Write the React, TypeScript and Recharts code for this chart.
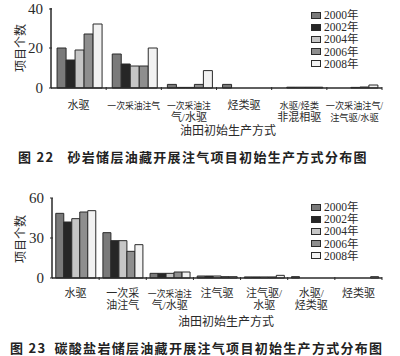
import React from 'react';
import { BarChart, Bar, XAxis, YAxis, Legend } from 'recharts';

const years = ['2000年', '2002年', '2004年', '2006年', '2008年'];
const keys = ['y2000', 'y2002', 'y2004', 'y2006', 'y2008'];
const fills = ['#7a7a7a', '#262626', '#c6c6c6', '#8e8e8e', '#f2f2f2'];

// 图22 砂岩储层
const sandCats = ['水驱', '一次采油注气', '一次采油注\n气/水驱', '烃类驱', '水驱/烃类\n非混相驱', '一次采油注气/\n注气驱/水驱'];
const sand2000 = [20, 17, 1.8, 1.8, 0, 0];
const sand2002 = [14, 12, 0.3, 0, 0.4, 0];
const sand2004 = [19, 11, 0.3, 0, 0.4, 0.3];
const sand2006 = [27, 11, 1.8, 0, 0.4, 0.5];
const sand2008 = [32, 20, 8.7, 0, 0.4, 1.5];
const sandTicks = [0, 20, 40];

// 图23 碳酸盐岩储层
const carbCats = ['水驱', '一次采\n油注气', '一次采油注\n气/水驱', '注气驱', '注气驱/\n水驱', '水驱/\n烃类驱', '烃类驱'];
const carb2000 = [48.5, 34, 3.5, 1.5, 0.8, 1, 0];
const carb2002 = [42, 28, 3.5, 1.5, 0.8, 0, 0];
const carb2004 = [44.5, 28, 3.5, 1.5, 0.8, 0, 0];
const carb2006 = [49.5, 20, 4.5, 1, 0.8, 0, 0];
const carb2008 = [50.5, 25, 4.5, 1, 2, 0, 1];
const carbTicks = [0, 30, 60];

const build = (cats: string[], series: number[][]) =>
  cats.map((c, i) => {
    const row: any = { cat: c };
    keys.forEach((k, j) => (row[k] = series[j][i]));
    return row;
  });

const sandData = build(sandCats, [sand2000, sand2002, sand2004, sand2006, sand2008]);
const carbData = build(carbCats, [carb2000, carb2002, carb2004, carb2006, carb2008]);

const FONT = '"Liberation Serif", "Noto Sans CJK SC", serif';
const INK = '#2a2a2a';

const lineWidth = (s: string) => [...s].reduce((w, ch) => w + (ch.charCodeAt(0) < 128 ? 4.5 : 8.8), 0);

const CatTick = (props: any) => {
  const { x, y, payload, band, dys } = props;
  const lines = String(payload.value).split('\n');
  return (
    <g>
      <line x1={x + band / 2} x2={x + band / 2} y1={y} y2={y - 3} stroke={INK} />
      {lines.map((l, i) => {
        const long = [...l].length >= 5;
        const tl = long ? lineWidth(l) : undefined;
        return (
          <text key={i} x={x} y={y + dys[i]} textAnchor="middle" fontSize={long ? 9.6 : 11} fontFamily={FONT} fill={INK}
            textLength={tl} lengthAdjust={tl ? 'spacingAndGlyphs' : undefined}>
            {l}
          </text>
        );
      })}
    </g>
  );
};

const NumTick = (props: any) => {
  const { x, y, payload } = props;
  return (
    <g>
      <line x1={x} x2={x + 3} y1={y} y2={y} stroke={INK} />
      <text x={x - 6} y={y} dy="0.35em" textAnchor="end" fontSize={15} fontFamily={FONT} fill={INK}>
        {payload.value}
      </text>
    </g>
  );
};

const LegendBox = () => (
  <div style={{ fontFamily: FONT, fontSize: 11.5, color: INK }}>
    {years.map((y, i) => (
      <div key={y} style={{ display: 'flex', alignItems: 'center', height: 12.2, lineHeight: '12px' }}>
        <span style={{ display: 'inline-block', width: 8, height: 5, background: fills[i], border: `1px solid ${INK}`, marginRight: 3 }} />
        {y}
      </div>
    ))}
  </div>
);

const yTitle = (cx: number, cy: number) => () => (
  <text x={cx} y={cy} transform={`rotate(-90 ${cx} ${cy})`} textAnchor="middle" dominantBaseline="central"
    fontSize={12} fontFamily={FONT} fill={INK}>
    项目个数
  </text>
);

const xTitle = (cx: number, cy: number) => () => (
  <text x={cx} y={cy} textAnchor="middle" dominantBaseline="central" fontSize={12} fontFamily={FONT} fill={INK}>
    油田初始生产方式
  </text>
);

const titleStyle: React.CSSProperties = {
  position: 'absolute', fontFamily: '"Noto Sans CJK SC", sans-serif', fontWeight: 'bold',
  fontSize: 13, letterSpacing: 1.3, color: '#222', whiteSpace: 'nowrap', lineHeight: '18px',
};

const bars = () =>
  keys.map((k, i) => (
    <Bar key={k} dataKey={k} name={years[i]} fill={fills[i]} stroke={INK} strokeWidth={1} isAnimationActive={false} />
  ));

export default function App() {
  return (
    <div style={{ position: 'absolute', left: 0, top: 0, width: 400, height: 356, background: '#fff' }}>
      <div style={{ position: 'absolute', left: 0, top: 0 }}>
        <BarChart width={400} height={140} data={sandData} margin={{ top: 8, right: 18, left: 0, bottom: 0 }}
          barCategoryGap="11%" barGap={0}>
          <XAxis dataKey="cat" height={52} interval={0} tickSize={0} tickLine={false}
            axisLine={{ stroke: INK, strokeWidth: 1.5 }} tick={<CatTick band={55.2} dys={[19, 31]} />}
            label={xTitle(228, 131)} />
          <YAxis width={51} domain={[0, 40]} ticks={sandTicks} tickSize={0} tickLine={false}
            axisLine={{ stroke: INK, strokeWidth: 1.5 }} tick={<NumTick />} label={yTitle(21, 48)} />
          <Legend layout="vertical" align="center" verticalAlign="middle"
            wrapperStyle={{ left: 311, top: 9, width: 80 }} content={() => <LegendBox />} />
          {bars()}
        </BarChart>
      </div>
      <div style={{ ...titleStyle, left: 18, top: 148 }}>
        <span>图 22</span>
        <span style={{ marginLeft: 13 }}>砂岩储层油藏开展注气项目初始生产方式分布图</span>
      </div>
      <div style={{ position: 'absolute', left: 0, top: 180 }}>
        <BarChart width={400} height={150} data={carbData} margin={{ top: 18, right: 18, left: 0, bottom: 0 }}
          barCategoryGap="8%" barGap={0}>
          <XAxis dataKey="cat" height={52} interval={0} tickSize={0} tickLine={false}
            axisLine={{ stroke: INK, strokeWidth: 1.5 }} tick={<CatTick band={47.14} dys={[17, 29]} />}
            label={xTitle(226, 142)} />
          <YAxis width={52} domain={[0, 60]} ticks={carbTicks} tickSize={0} tickLine={false}
            axisLine={{ stroke: INK, strokeWidth: 1.5 }} tick={<NumTick />} label={yTitle(21, 59)} />
          <Legend layout="vertical" align="center" verticalAlign="middle"
            wrapperStyle={{ left: 311, top: 21, width: 80 }} content={() => <LegendBox />} />
          {bars()}
        </BarChart>
      </div>
      <div style={{ ...titleStyle, left: 10, top: 339 }}>
        <span>图 23</span>
        <span style={{ marginLeft: 8 }}>碳酸盐岩储层油藏开展注气项目初始生产方式分布图</span>
      </div>
    </div>
  );
}
